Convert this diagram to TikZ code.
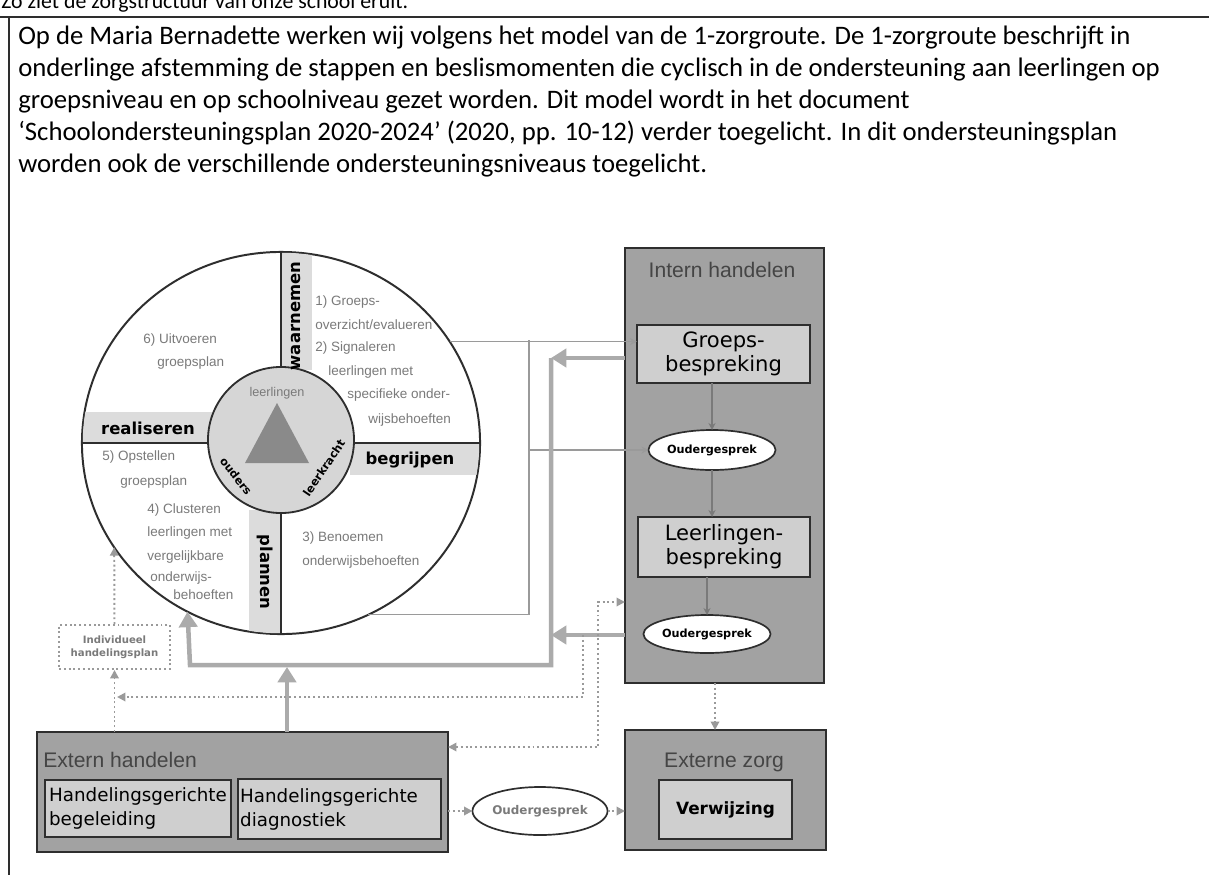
\documentclass[tikz,border=0pt]{standalone}
\usepackage{fontspec}
\setmainfont{Carlito}
\newfontfamily\arialf{Liberation Sans}
\newfontfamily\comicf{DejaVu Sans}
\usetikzlibrary{arrows.meta,shapes.geometric}
\definecolor{boxgray}{HTML}{A2A2A2}
\definecolor{innergray}{HTML}{CFCFCF}
\definecolor{stripgray}{HTML}{DCDCDC}
\definecolor{hubgray}{HTML}{D6D6D6}
\definecolor{trigray}{HTML}{8A8A8A}
\definecolor{txtgray}{HTML}{7A7A7A}
\definecolor{linegray}{HTML}{9A9A9A}
\definecolor{fatgray}{HTML}{ABABAB}
\definecolor{edge}{HTML}{2E2E2E}
\definecolor{titlegray}{HTML}{454545}
\begin{document}
\begin{tikzpicture}[x=0.025cm,y=-0.025cm,
  para/.style={anchor=base west, inner sep=0, font=\fontsize{19}{22}\selectfont},
  bigbox/.style={draw=edge, line width=1.4pt, fill=boxgray, inner sep=0, outer sep=0},
  subbox/.style={draw=edge, line width=1.2pt, fill=innergray, inner sep=0, outer sep=0},
  oval/.style={ellipse, draw=edge, line width=1.2pt, fill=white, inner sep=0, outer sep=0},
  boxtitle/.style={font=\arialf\fontsize{15}{17}\selectfont, text=titlegray, inner sep=0},
  comictext/.style={font=\comicf\fontsize{15}{17}\selectfont, align=center},
  thinline/.style={draw=linegray, line width=1pt},
  thinarr/.style={thinline, -{Stealth[length=5pt,width=5pt]}},
  fatline/.style={draw=fatgray, line width=3.2pt},
  fatarr/.style={fatline, -{Triangle[length=11pt,width=13pt]}},
  dots/.style={draw=linegray, line width=1.4pt, dotted},
  dotarr/.style={dots, -{Triangle[length=6pt,width=6pt]}},
  qtext/.style={font=\arialf\fontsize{9.6}{11}\selectfont, text=txtgray, anchor=west, inner sep=0},
  striptext/.style={font=\comicf\bfseries\fontsize{11.7}{13}\selectfont, inner sep=0},
  hubtext/.style={font=\comicf\bfseries\fontsize{8}{9}\selectfont, inner sep=0},
  oudtext/.style={font=\comicf\bfseries\fontsize{8}{9}\selectfont},
  divider/.style={draw=edge, line width=1.3pt}
]
\useasboundingbox (0,0) rectangle (1209,875);
\clip (0,0) rectangle (1209,875);
\fill[white] (0,0) rectangle (1209,875);

% frame and text
\draw[edge, line width=1.5pt] (0,17) -- (1209,17);
\draw[edge, line width=1pt] (9,17) -- (9,875);
\node[anchor=base west, inner sep=0, font=\fontsize{15.5}{18}\selectfont] (cut) at (1,8) {Zo ziet de zorgstructuur van onze school eruit.};
\node[para] (p1) at (18,44) {Op de Maria Bernadette werken wij volgens het model van de 1-zorgroute. De 1-zorgroute beschrijft in};
\node[para] (p2) at (18,76) {onderlinge afstemming de stappen en beslismomenten die cyclisch in de ondersteuning aan leerlingen op};
\node[para] (p3) at (18,108) {groepsniveau en op schoolniveau gezet worden. Dit model wordt in het document};
\node[para] (p4) at (18,140) {‘Schoolondersteuningsplan 2020-2024’ (2020, pp. 10-12) verder toegelicht. In dit ondersteuningsplan};
\node[para] (p5) at (18,172) {worden ook de verschillende ondersteuningsniveaus toegelicht.};

% wheel
\node[ellipse, draw=edge, line width=1.4pt, fill=white, inner sep=0, outer sep=0,
      minimum width=9.95cm, minimum height=9.55cm] (wheel) at (281,443) {};
\begin{scope}
  \clip (281,443) ellipse [x radius=4.955cm, y radius=4.755cm];
  \fill[stripgray] (281,250) rectangle (312,370);
  \fill[stripgray] (80,412) rectangle (212,443);
  \fill[stripgray] (350,443) rectangle (482,475);
  \fill[stripgray] (249,510) rectangle (281,636);
\end{scope}
\node[circle, draw=edge, line width=1.3pt, fill=hubgray, inner sep=0, outer sep=0,
      minimum size=3.65cm] (hub) at (281,440) {};
\draw[divider] (wheel.north) -- (hub.north);
\draw[divider] (hub.south) -- (wheel.south);
\draw[divider] (wheel.west) -- (wheel.west -| hub.west);
\draw[divider] (wheel.east -| hub.east) -- (wheel.east);
\fill[trigray] (277,403) -- (309,463) -- (245,463) -- cycle;

\node[font=\arialf\fontsize{9}{10}\selectfont, text=txtgray, inner sep=0] (hl) at (277,393) {leerlingen};
\node[hubtext, rotate=-52] (ho) at (236,476) {ouders};
\node[hubtext, rotate=56] (hk) at (324,468) {leerkracht};

\node[striptext, rotate=90] (waar) at (296,316) {waarnemen};
\node[striptext] (real) at (148,428) {realiseren};
\node[striptext] (begr) at (410,460) {begrijpen};
\node[striptext, rotate=-90] (plan) at (265,572) {plannen};

\node[qtext] (q1a) at (315,302) {1) Groeps-};
\node[qtext] (q1b) at (315,325) {overzicht/evalueren};
\node[qtext] (q1c) at (315,348) {2) Signaleren};
\node[qtext] (q1d) at (328,372) {leerlingen met};
\node[qtext] (q1e) at (347,395) {specifieke onder-};
\node[qtext] (q1f) at (368,420) {wijsbehoeften};
\node[qtext] (q6a) at (143,340) {6) Uitvoeren};
\node[qtext] (q6b) at (157,363) {groepsplan};
\node[qtext] (q5a) at (102,457) {5) Opstellen};
\node[qtext] (q5b) at (120,482) {groepsplan};
\node[qtext] (q4a) at (147,510) {4) Clusteren};
\node[qtext] (q4b) at (147,533) {leerlingen met};
\node[qtext] (q4c) at (147,557) {vergelijkbare};
\node[qtext] (q4d) at (150,578) {onderwijs-};
\node[qtext] (q4e) at (173,595) {behoeften};
\node[qtext] (q3a) at (302,538) {3) Benoemen};
\node[qtext] (q3b) at (302,562) {onderwijsbehoeften};

% intern handelen
\node[bigbox, minimum width=4.975cm, minimum height=10.875cm] (intern) at (724.5,465.5) {};
\node[boxtitle] (internt) at (722,270) {Intern handelen};
\node[subbox, minimum width=4.325cm, minimum height=1.45cm, comictext] (groeps) at (723.5,354) {Groeps-\\bespreking};
\node[oval, minimum width=2.9cm, minimum height=1.0cm, oudtext] (oud1) at (712,450) {Oudergesprek};
\node[subbox, minimum width=4.3cm, minimum height=1.5cm, comictext] (leerl) at (724,547) {Leerlingen-\\bespreking};
\node[oval, minimum width=2.75cm, minimum height=0.95cm, oudtext] (oud2) at (707,634) {Oudergesprek};

% externe zorg
\node[bigbox, minimum width=5.025cm, minimum height=3.0cm] (externe) at (725.5,790) {};
\node[boxtitle] (externet) at (724,762) {Externe zorg};
\node[subbox, minimum width=3.325cm, minimum height=1.475cm, font=\comicf\bfseries\fontsize{12}{14}\selectfont] (verw) at (725.5,809.5) {Verwijzing};

% extern handelen
\node[bigbox, minimum width=10.275cm, minimum height=3.0cm] (extern) at (242.5,792) {};
\node[boxtitle, anchor=west] (externt) at (43,760) {Extern handelen};
\node[subbox, minimum width=4.65cm, minimum height=1.425cm, align=left, font=\comicf\fontsize{13}{17}\selectfont] (hgb) at (138,808.5) {Handelingsgerichte\\begeleiding};
\node[subbox, minimum width=5.075cm, minimum height=1.5cm, align=left, font=\comicf\fontsize{13}{17}\selectfont] (hgd) at (339.5,809) {Handelingsgerichte\\diagnostiek\phantom{gggggggg}};
\node[oval, minimum width=2.9cm, minimum height=1.2cm, font=\comicf\bfseries\fontsize{8.5}{10}\selectfont, text=txtgray] (oud3) at (540,811) {Oudergesprek};

% individueel handelingsplan
\node[dots, fill=white, minimum width=2.775cm, minimum height=1.1cm, inner sep=0, align=center,
      font=\comicf\bfseries\fontsize{7.2}{9}\selectfont, text=txtgray] (indiv) at (114.5,647) {Individueel\\handelingsplan};

% thin connectors
\draw[thinarr] (wheel.31.6) -- (wheel.31.6 -| groeps.west);
\draw[thinline] (wheel.-63.3) -| (529,340);
\draw[thinarr] (529,450) -- (oud1.west);
\draw[thinarr, draw=txtgray] (groeps.south -| oud1.north) -- (oud1.north);
\draw[thinarr, draw=txtgray] (oud1.south) -- (oud1.south |- leerl.north);
\draw[thinarr, draw=txtgray] (leerl.south -| oud2.north) -- (oud2.north);

% thick connectors
\draw[fatarr] (intern.west |- 0,358) -- (551,358);
\draw[fatarr] (intern.west |- 0,635) -- (551,635);
\draw[fatarr] (551,358) -- (551,665) -- (190,665) -- (wheel.241.8);
\draw[fatarr] (extern.north -| 287,0) -- (287,667);

% dotted connectors
\draw[dotarr] (extern.north -| indiv.south) -- (indiv.south);
\draw[dotarr] (indiv.north) -- (wheel.212.3);
\draw[dotarr] (583,635) -- (583,697) -- (117,697);
\draw[dots, {Triangle[length=6pt,width=6pt]}-{Triangle[length=6pt,width=6pt]}] (extern.east |- 0,747) -| (598,602) -- (intern.west |- 0,602);
\draw[dotarr] (intern.south -| 715,0) -- (externe.north -| 715,0);
\draw[dotarr] (extern.east |- oud3) -- (oud3.west);
\draw[dotarr] (oud3.east) -- (externe.west |- oud3);
\end{tikzpicture}
\end{document}
